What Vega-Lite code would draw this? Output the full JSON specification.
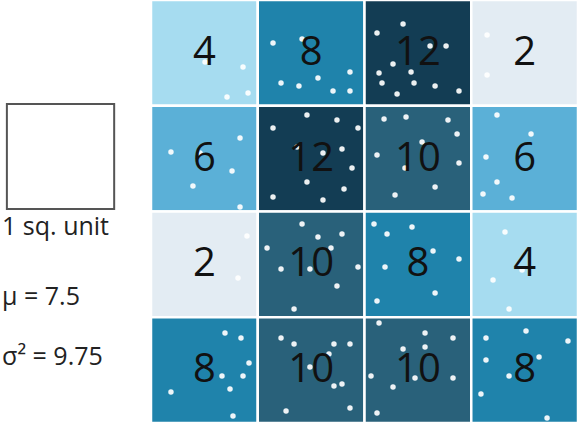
{
  "$schema": "https://vega.github.io/schema/vega-lite/v6.json",
  "width": 581,
  "height": 428,
  "autosize": "none",
  "padding": 0,
  "background": "white",
  "config": {"view": {"stroke": null}},
  "datasets": {
    "cells": [
      {"row": 0, "col": 0, "count": 4}, {"row": 0, "col": 1, "count": 8}, {"row": 0, "col": 2, "count": 12}, {"row": 0, "col": 3, "count": 2},
      {"row": 1, "col": 0, "count": 6}, {"row": 1, "col": 1, "count": 12}, {"row": 1, "col": 2, "count": 10}, {"row": 1, "col": 3, "count": 6},
      {"row": 2, "col": 0, "count": 2}, {"row": 2, "col": 1, "count": 10}, {"row": 2, "col": 2, "count": 8}, {"row": 2, "col": 3, "count": 4},
      {"row": 3, "col": 0, "count": 8}, {"row": 3, "col": 1, "count": 10}, {"row": 3, "col": 2, "count": 10}, {"row": 3, "col": 3, "count": 8}
    ],
    "points": [
      {"x": 0.506, "y": 0.586}, {"x": 0.862, "y": 0.634}, {"x": 0.712, "y": 0.917}, {"x": 0.909, "y": 0.879},
      {"x": 1.143, "y": 0.407}, {"x": 1.415, "y": 0.369}, {"x": 1.864, "y": 0.681}, {"x": 1.218, "y": 0.785}, {"x": 1.386, "y": 0.813}, {"x": 1.564, "y": 0.738}, {"x": 1.705, "y": 0.861}, {"x": 1.864, "y": 0.861},
      {"x": 2.117, "y": 0.312}, {"x": 2.361, "y": 0.227}, {"x": 2.614, "y": 0.435}, {"x": 2.764, "y": 0.435}, {"x": 2.267, "y": 0.605}, {"x": 2.136, "y": 0.690}, {"x": 2.436, "y": 0.681}, {"x": 2.164, "y": 0.785}, {"x": 2.464, "y": 0.785}, {"x": 2.661, "y": 0.813}, {"x": 2.305, "y": 0.889}, {"x": 2.885, "y": 0.861},
      {"x": 3.148, "y": 0.331}, {"x": 3.148, "y": 0.709},
      {"x": 0.187, "y": 1.437}, {"x": 0.459, "y": 1.447}, {"x": 0.834, "y": 1.305}, {"x": 0.759, "y": 1.617}, {"x": 0.393, "y": 1.759}, {"x": 0.834, "y": 1.957},
      {"x": 1.461, "y": 1.087}, {"x": 1.742, "y": 1.135}, {"x": 1.939, "y": 1.210}, {"x": 1.143, "y": 1.210}, {"x": 1.368, "y": 1.390}, {"x": 1.611, "y": 1.447}, {"x": 1.789, "y": 1.409}, {"x": 1.883, "y": 1.589}, {"x": 1.461, "y": 1.721}, {"x": 1.808, "y": 1.787}, {"x": 1.143, "y": 1.863}, {"x": 1.611, "y": 1.891},
      {"x": 2.183, "y": 1.125}, {"x": 2.389, "y": 1.106}, {"x": 2.782, "y": 1.135}, {"x": 2.867, "y": 1.267}, {"x": 2.539, "y": 1.343}, {"x": 2.117, "y": 1.466}, {"x": 2.379, "y": 1.589}, {"x": 2.885, "y": 1.541}, {"x": 2.661, "y": 1.768}, {"x": 2.286, "y": 1.844},
      {"x": 3.241, "y": 1.087}, {"x": 3.560, "y": 1.267}, {"x": 3.138, "y": 1.485}, {"x": 3.241, "y": 1.721}, {"x": 3.110, "y": 1.834}, {"x": 3.382, "y": 1.872},
      {"x": 0.899, "y": 2.232}, {"x": 0.815, "y": 2.629},
      {"x": 1.415, "y": 2.118}, {"x": 1.564, "y": 2.241}, {"x": 1.789, "y": 2.213}, {"x": 1.087, "y": 2.345}, {"x": 1.686, "y": 2.345}, {"x": 1.218, "y": 2.544}, {"x": 1.489, "y": 2.544}, {"x": 1.939, "y": 2.525}, {"x": 1.742, "y": 2.704}, {"x": 1.340, "y": 2.922},
      {"x": 2.089, "y": 2.118}, {"x": 2.211, "y": 2.213}, {"x": 2.445, "y": 2.147}, {"x": 2.642, "y": 2.373}, {"x": 2.885, "y": 2.449}, {"x": 2.192, "y": 2.525}, {"x": 2.661, "y": 2.771}, {"x": 2.117, "y": 2.846},
      {"x": 3.316, "y": 2.194}, {"x": 3.204, "y": 2.648}, {"x": 3.354, "y": 2.922}, {"x": 3.476, "y": 2.553},
      {"x": 0.693, "y": 3.149}, {"x": 0.843, "y": 3.196}, {"x": 0.918, "y": 3.433}, {"x": 0.665, "y": 3.556}, {"x": 0.862, "y": 3.556}, {"x": 0.740, "y": 3.678}, {"x": 0.187, "y": 3.707}, {"x": 0.768, "y": 3.934},
      {"x": 1.218, "y": 3.196}, {"x": 1.340, "y": 3.253}, {"x": 1.714, "y": 3.253}, {"x": 1.864, "y": 3.253}, {"x": 1.667, "y": 3.347}, {"x": 1.489, "y": 3.470}, {"x": 1.714, "y": 3.650}, {"x": 1.789, "y": 3.631}, {"x": 1.265, "y": 3.886}, {"x": 1.864, "y": 3.858},
      {"x": 2.136, "y": 3.054}, {"x": 2.567, "y": 3.149}, {"x": 2.829, "y": 3.196}, {"x": 2.361, "y": 3.300}, {"x": 2.567, "y": 3.281}, {"x": 2.061, "y": 3.556}, {"x": 2.267, "y": 3.660}, {"x": 2.829, "y": 3.574}, {"x": 2.117, "y": 3.905}, {"x": 2.473, "y": 3.574},
      {"x": 3.513, "y": 3.130}, {"x": 3.906, "y": 3.225}, {"x": 3.138, "y": 3.196}, {"x": 3.635, "y": 3.376}, {"x": 3.138, "y": 3.404}, {"x": 3.354, "y": 3.556}, {"x": 3.091, "y": 3.726}, {"x": 3.710, "y": 3.953}
    ],
    "unit": [{"x": -1.35, "x2": -0.345, "y": 0.983, "y2": 1.976}],
    "notes": [
      {"label": "1 sq. unit", "x": -1.395, "y": 2.15},
      {"label": "μ = 7.5", "x": -1.395, "y": 2.81},
      {"label": "σ² = 9.75", "x": -1.395, "y": 3.38}
    ]
  },
  "layer": [
    {
      "data": {"name": "cells"},
      "transform": [
        {"calculate": "datum.col + 1", "as": "col2"},
        {"calculate": "datum.row + 1", "as": "row2"}
      ],
      "mark": {"type": "rect", "stroke": "white", "strokeWidth": 2.5},
      "encoding": {
        "x": {"field": "col", "type": "quantitative", "scale": {"domain": [-1.4145, 4.028], "nice": false, "zero": false}, "axis": null},
        "x2": {"field": "col2"},
        "y": {"field": "row", "type": "quantitative", "scale": {"domain": [0, 4.047], "nice": false, "zero": false, "reverse": true}, "axis": null},
        "y2": {"field": "row2"},
        "color": {
          "field": "count", "type": "ordinal", "legend": null,
          "scale": {"domain": [2, 4, 6, 8, 10, 12], "range": ["#e3ecf3", "#a6dcf0", "#5bb0d7", "#1f83ab", "#29617a", "#133d54"]}
        }
      }
    },
    {
      "data": {"name": "points"},
      "mark": {"type": "circle", "color": "white", "opacity": 0.92, "size": 30},
      "encoding": {
        "x": {"field": "x", "type": "quantitative"},
        "y": {"field": "y", "type": "quantitative"}
      }
    },
    {
      "data": {"name": "cells"},
      "transform": [
        {"calculate": "datum.col + 0.5", "as": "cx"},
        {"calculate": "datum.row + 0.5", "as": "cy"}
      ],
      "mark": {"type": "text", "fontSize": 40, "font": "Open Sans", "color": "#111111", "baseline": "middle", "align": "center"},
      "encoding": {
        "x": {"field": "cx", "type": "quantitative"},
        "y": {"field": "cy", "type": "quantitative"},
        "text": {"field": "count", "type": "quantitative"}
      }
    },
    {
      "data": {"name": "unit"},
      "mark": {"type": "rect", "fill": "white", "stroke": "#555555", "strokeWidth": 2},
      "encoding": {
        "x": {"field": "x", "type": "quantitative"},
        "x2": {"field": "x2"},
        "y": {"field": "y", "type": "quantitative"},
        "y2": {"field": "y2"}
      }
    },
    {
      "data": {"name": "notes"},
      "mark": {"type": "text", "fontSize": 25, "font": "Open Sans", "color": "#222222", "baseline": "middle", "align": "left"},
      "encoding": {
        "x": {"field": "x", "type": "quantitative"},
        "y": {"field": "y", "type": "quantitative"},
        "text": {"field": "label", "type": "nominal"}
      }
    }
  ]
}
